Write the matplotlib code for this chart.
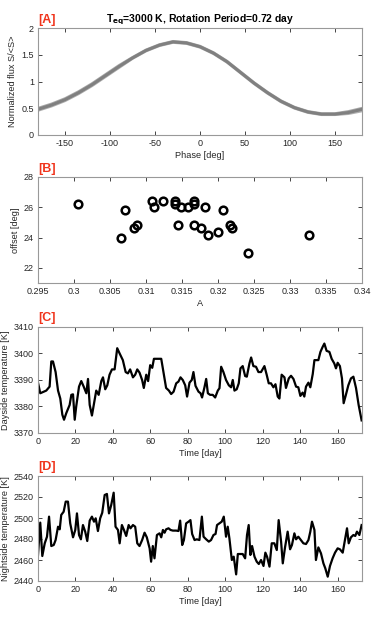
import numpy as np
import matplotlib
matplotlib.use("Agg")
import matplotlib.pyplot as plt

# --- panel A: phase curves (several nearly identical curves)
phase = [-180, -165, -150, -135, -120, -105, -90, -75, -60, -45, -30, -15,
         0, 15, 30, 45, 60, 75, 90, 105, 120, 135, 150, 165, 180]
flux_mid = [0.48, 0.56, 0.66, 0.79, 0.94, 1.11, 1.28, 1.44, 1.58, 1.68, 1.74, 1.72,
            1.65, 1.53, 1.37, 1.17, 0.97, 0.79, 0.63, 0.51, 0.43, 0.39, 0.39, 0.42, 0.48]
flux_lo = [0.46, 0.54, 0.64, 0.77, 0.92, 1.09, 1.26, 1.43, 1.57, 1.67, 1.73, 1.71,
           1.64, 1.52, 1.36, 1.16, 0.96, 0.78, 0.62, 0.50, 0.42, 0.38, 0.38, 0.40, 0.45]
flux_hi = [0.50, 0.58, 0.68, 0.81, 0.96, 1.13, 1.30, 1.45, 1.59, 1.69, 1.75, 1.73,
           1.66, 1.54, 1.38, 1.18, 0.98, 0.80, 0.64, 0.52, 0.44, 0.40, 0.40, 0.44, 0.50]

# --- panel B: amplitude vs offset
amp = [0.3005, 0.3065, 0.3071, 0.3084, 0.3088, 0.3109, 0.3111, 0.3124, 0.3140,
       0.3140, 0.3144, 0.3149, 0.3158, 0.3166, 0.3167, 0.3167, 0.3176, 0.3182,
       0.3186, 0.3200, 0.3207, 0.3217, 0.3220, 0.3241, 0.3326]
offset = [26.2, 24.0, 25.8, 24.6, 24.8, 26.4, 26.0, 26.4, 26.4,
          26.2, 24.8, 26.0, 26.0, 24.8, 26.4, 26.2, 24.6, 26.0,
          24.2, 24.4, 25.8, 24.8, 24.6, 23.0, 24.2]

# --- panel C: dayside temperature
t_day = [0, 1.2, 4.4, 6.2, 7.1, 8, 9.4, 10.7, 11.9, 13, 13.9, 15.1, 16.9, 17.8, 18.7,
         19.6, 20.4, 21.9, 23.1, 24.4, 25.8, 26.7, 27.6, 28.8, 29.9, 31.1, 32.4, 33.8,
         34.7, 35.9, 37, 38.2, 39.5, 40.9, 42.3, 43.6, 45.3, 46.8, 48, 49.2, 50.7, 51.9,
         53, 54.2, 55.6, 56.5, 57.8, 58.8, 59.9, 61, 61.9, 63.1, 64.5, 65.8, 67, 68.4,
         69.9, 71.1, 72.4, 73.8, 75, 76.1, 77.3, 78.6, 79.6, 80.9, 82.1, 83, 84.1, 85.7,
         86.8, 87.6, 88.9, 89.8, 90.7, 91.9, 93.3, 94.6, 96, 96.9, 97.8, 99, 100.4, 101.9,
         103.1, 104, 104.9, 106.1, 107.2, 108.1, 109.3, 110.6, 111.5, 112.9, 113.8, 115,
         116.4, 117.7, 119.1, 120.9, 122.1, 123.2, 124.4, 125.7, 126.8, 128, 128.9, 130.1,
         131.6, 132.4, 133.9, 135.1, 136.4, 137.8, 139, 140.1, 141.3, 142.2, 143.1, 144.4,
         145.4, 146.7, 147.6, 148.4, 149.7, 150.8, 152, 152.9, 154.1, 155.6, 156.8, 158.2,
         159.1, 160, 161.2, 162.3, 163.2, 164.4, 165.7, 167.1, 168.4, 169.8, 171.2, 172.8]
T_day = [3389, 3385, 3386, 3387.5, 3397, 3397, 3393, 3386, 3383, 3376.9, 3375, 3377.5,
         3380.6, 3384.4, 3384.6, 3375, 3380, 3387.5, 3389.6, 3387.5, 3385, 3390.4, 3380.6,
         3376.6, 3381, 3386, 3384.4, 3389.6, 3391, 3386.5, 3388, 3392, 3394, 3394, 3402,
         3400, 3397.5, 3393, 3392.5, 3394, 3391, 3392, 3394, 3392.8, 3390, 3387, 3392,
         3389.6, 3395.6, 3394.6, 3398, 3398, 3398, 3398, 3393, 3387, 3386, 3384.7, 3385.6,
         3388.75, 3389.4, 3391, 3390, 3388, 3383.75, 3389, 3390, 3393, 3387.8, 3385.6, 3385,
         3383.4, 3387.3, 3390.4, 3385, 3384.4, 3384.4, 3383.4, 3386, 3386.9, 3395, 3393,
         3390, 3388, 3387.25, 3390, 3386, 3386.5, 3388.75, 3394.4, 3395.25, 3391.5, 3391.25,
         3396.25, 3398.5, 3395.25, 3395, 3393, 3393, 3395.25, 3392, 3388.75, 3388.75,
         3387.25, 3388.4, 3383.75, 3383, 3392, 3391, 3387, 3390.6, 3391.6, 3390.4, 3387.5,
         3387.25, 3384, 3385.25, 3383.75, 3387.5, 3389, 3387.25, 3392.25, 3397.5, 3397.5,
         3397.5, 3400.6, 3402.5, 3403.75, 3401, 3400.6, 3398, 3396.25, 3394.4, 3396.5,
         3395.25, 3390.6, 3381.25, 3384.4, 3388, 3390.6, 3391.25, 3387, 3380.6, 3374.75]

# --- panel D: nightside temperature
t_night = [0, 1.2, 2.3, 3.6, 4.8, 5.9, 7.1, 8.4, 9.4, 10.7, 11.6, 12.4, 13.7, 14.8, 16,
           17.2, 18.7, 19.9, 20.8, 21.9, 22.9, 24, 25.2, 26.3, 27.6, 28.8, 29.9, 30.8, 32,
           33.2, 34.3, 35.6, 36.8, 37.9, 39.1, 40.4, 41.4, 42.7, 43.6, 44.8, 45.9, 47.1,
           48.4, 49.4, 50.7, 51.9, 53, 54.2, 55.6, 56.9, 58.1, 59.6, 60.4, 61.3, 62.2, 63.5,
           64.9, 65.8, 66.7, 67.6, 68.4, 69.7, 70.8, 72, 73.8, 75, 75.9, 77, 77.9, 79.1,
           80.4, 81.4, 82.3, 83.6, 84.8, 86.2, 87.5, 88.4, 89.8, 91.2, 92.4, 93.7, 94.8,
           95.6, 96.9, 98.1, 99.2, 100.4, 101.3, 102.2, 103.5, 104.5, 105.8, 106.7, 107.9,
           109.3, 110.6, 111.6, 112.5, 113.4, 114.3, 115.6, 116.8, 117.9, 119.1, 120.4,
           121.4, 122.3, 123.6, 124.8, 126.2, 127.5, 128.5, 129.8, 130.7, 131.9, 133.3,
           134.6, 135.6, 136.9, 137.8, 139, 140.4, 141.7, 143.1, 144.4, 145.4, 146.3, 147.6,
           148.4, 149.7, 151.1, 152.4, 153.4, 154.7, 155.9, 157.3, 158.6, 160, 161.2, 162.7,
           163.9, 165, 165.9, 167.1, 168.4, 169.4, 170.3, 171.6, 172.8]
T_night = [2464.8, 2495.6, 2463.8, 2475.9, 2482.2, 2501.3, 2473.3, 2474.3, 2479, 2491.7,
           2489.2, 2502.9, 2506, 2515.6, 2515.6, 2494.9, 2481.6, 2488.6, 2504.4, 2483.8,
           2479.7, 2493.3, 2487, 2478.1, 2497.5, 2501.3, 2496.5, 2499.7, 2487.6, 2499.7,
           2505, 2521.9, 2522.9, 2504.4, 2512.4, 2524.1, 2491.7, 2488.6, 2475.9, 2493.3,
           2488.6, 2482.9, 2493.3, 2490.2, 2493.3, 2491.7, 2475.9, 2473.3, 2479, 2486,
           2481.6, 2471.1, 2458.4, 2473.3, 2461.6, 2483.8, 2485.4, 2481.6, 2488.6, 2486,
           2489.2, 2490.2, 2488.6, 2488, 2488, 2487.6, 2497.5, 2474.3, 2479, 2494.9, 2496.5,
           2498, 2484.8, 2479, 2479.7, 2479, 2501.3, 2482.2, 2479.7, 2477.5, 2479, 2483.8,
           2484.8, 2493.3, 2494.9, 2496.5, 2501.3, 2482.2, 2491.7, 2480.6, 2460, 2463.2,
           2446.3, 2465.7, 2465.7, 2465.7, 2461.6, 2483.8, 2493.3, 2464.8, 2473.3, 2463.2,
           2458.4, 2456.2, 2460, 2454.3, 2467, 2463.2, 2453.7, 2475.9, 2475.9, 2469.5, 2498,
           2477.5, 2456.8, 2472, 2487, 2470.2, 2474.3, 2485.4, 2479.7, 2482.2, 2479, 2475.9,
           2475.2, 2479, 2487, 2496.5, 2488.6, 2460, 2472, 2466.3, 2456.8, 2452.1, 2444.1,
           2454.3, 2461.6, 2467, 2471.1, 2470.2, 2467, 2479, 2490.2, 2475.9, 2481.6, 2483.8,
           2482.9, 2487, 2483.8, 2493.3]

plt.rcParams['font.family'] = ['Liberation Sans', 'DejaVu Sans']
plt.rcParams['axes.unicode_minus'] = False
W, H = 374, 620
fig = plt.figure(figsize=(W / 100, H / 100), dpi=100)

def box(top, bottom, left=38, right=362):
    return [left / W, (H - bottom) / H, (right - left) / W, (bottom - top) / H]

def style(ax):
    ax.tick_params(direction='in', top=True, right=True, length=3, width=0.6,
                   labelsize=6.5, colors='#262626', pad=3)
    for s in ax.spines.values():
        s.set_color('#999999')
        s.set_linewidth(0.8)

red = '#f0341c'
lab = dict(fontsize=6.6, color='#262626')

# A
ax = fig.add_axes(box(28, 135))
ax.plot(phase, flux_lo, color='#b0b0b0', lw=2)
ax.plot(phase, flux_hi, color='#a8a8a8', lw=2)
ax.plot(phase, flux_mid, color='#808080', lw=2.2)
ax.set_xlim(-180, 180)
ax.set_ylim(0, 2)
ax.set_xticks([-150, -100, -50, 0, 50, 100, 150])
ax.set_yticks([0, 0.5, 1, 1.5, 2])
ax.set_yticklabels(['0', '0.5', '1', '1.5', '2'])
ax.set_xlabel('Phase [deg]', labelpad=2, **lab)
ax.set_ylabel('Normalized flux S/<S>', labelpad=3, **lab)
ax.set_title(r'T$_{\mathbf{eq}}$=3000 K, Rotation Period=0.72 day',
             fontsize=7.5, fontweight='bold', pad=4)
style(ax)
fig.text(38 / W, 1 - 20 / H, '[A]', color=red, fontsize=9, fontweight='bold', va='center')

# B
ax = fig.add_axes(box(177, 283))
ax.plot(amp, offset, 'o', ms=5.5, mfc='none', mec='black', mew=1.8)
ax.set_xlim(0.295, 0.34)
ax.set_ylim(21, 28)
ax.set_xticks([0.295, 0.3, 0.305, 0.31, 0.315, 0.32, 0.325, 0.33, 0.335, 0.34])
ax.set_xticklabels(['0.295', '0.3', '0.305', '0.31', '0.315', '0.32', '0.325', '0.33', '0.335', '0.34'])
ax.set_yticks([22, 24, 26, 28])
ax.set_xlabel('A', labelpad=2, **lab)
ax.set_ylabel('offset [deg]', labelpad=3, **lab)
style(ax)
fig.text(38 / W, 1 - 169 / H, '[B]', color=red, fontsize=9, fontweight='bold', va='center')

# C
ax = fig.add_axes(box(327, 433))
ax.plot(t_day, T_day, color='black', lw=1.6)
ax.set_xlim(0, 173)
ax.set_ylim(3370, 3410)
ax.set_xticks(range(0, 161, 20))
ax.set_yticks(range(3370, 3411, 10))
ax.set_xlabel('Time [day]', labelpad=2, **lab)
ax.set_ylabel('Dayside temperature [K]', labelpad=3, **lab)
style(ax)
fig.text(38 / W, 1 - 318 / H, '[C]', color=red, fontsize=9, fontweight='bold', va='center')

# D
ax = fig.add_axes(box(476, 581))
ax.plot(t_night, T_night, color='black', lw=1.6)
ax.set_xlim(0, 173)
ax.set_ylim(2440, 2540)
ax.set_xticks(range(0, 161, 20))
ax.set_yticks(range(2440, 2541, 20))
ax.set_xlabel('Time [day]', labelpad=2, **lab)
ax.set_ylabel('Nightside temperature [K]', labelpad=3, **lab)
style(ax)
fig.text(38 / W, 1 - 467 / H, '[D]', color=red, fontsize=9, fontweight='bold', va='center')

fig.savefig('out.png', dpi=100)
